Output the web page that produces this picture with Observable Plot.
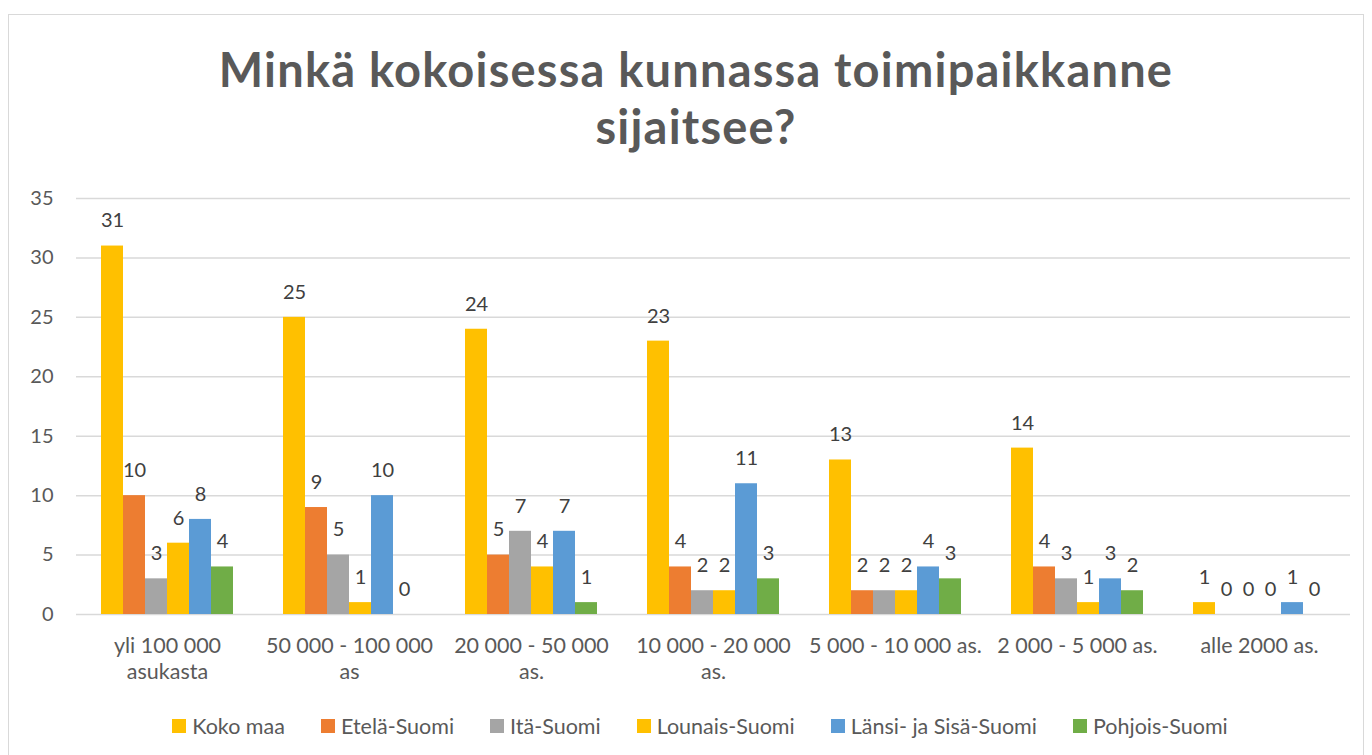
<!DOCTYPE html>
<html><head><meta charset="utf-8">
<script src="https://cdn.jsdelivr.net/npm/d3@7"></script>
<script src="https://cdn.jsdelivr.net/npm/@observablehq/plot@0.6"></script>
<style>
body{margin:0;background:#fff;font-family:Lato,"Open Sans",sans-serif;width:1372px;height:755px;overflow:hidden;position:relative}
#frame{position:absolute;left:8px;top:14px;width:1356px;height:780px;border:1.5px solid #d9d9d9;box-sizing:border-box}
#title{position:absolute;left:10px;width:1372px;top:41px;text-align:center;font-weight:bold;font-size:47px;letter-spacing:1.2px;color:#595959;line-height:57px}
#chart{position:absolute;left:0;top:170px}
#legend{position:absolute;top:712px;left:14px;width:1372px;display:flex;justify-content:center;gap:36px;font-size:21.5px;color:#595959;line-height:28px}
.item{display:flex;align-items:center;gap:6px}
.sw{width:14px;height:14px;display:inline-block}
</style></head>
<body>
<div id="frame"></div>
<div id="title">Minkä kokoisessa kunnassa toimipaikkanne<br>sijaitsee?</div>
<div id="chart"></div>
<div id="legend"></div>
<script>
const categories = ["yli 100 000 asukasta","50 000 - 100 000 as","20 000 - 50 000 as.","10 000 - 20 000 as.","5 000 - 10 000 as.","2 000 - 5 000 as.","alle 2000 as."];
const tickLabels = ["yli 100 000\nasukasta","50 000 - 100 000\nas","20 000 - 50 000\nas.","10 000 - 20 000\nas.","5 000 - 10 000 as.","2 000 - 5 000 as.","alle 2000 as."];
const series = ["Koko maa","Etelä-Suomi","Itä-Suomi","Lounais-Suomi","Länsi- ja Sisä-Suomi","Pohjois-Suomi"];
const colors = ["#FFC000","#ED7D31","#A5A5A5","#FFC000","#5B9BD5","#70AD47"];
const kokoMaa = [31,25,24,23,13,14,1];
const etelaSuomi = [10,9,5,4,2,4,0];
const itaSuomi = [3,5,7,2,2,3,0];
const lounaisSuomi = [6,1,4,2,2,1,0];
const lansiSisaSuomi = [8,10,7,11,4,3,1];
const pohjoisSuomi = [4,0,1,3,3,2,0];
const yTicks = [0,5,10,15,20,25,30,35];

const valuesBySeries = [kokoMaa, etelaSuomi, itaSuomi, lounaisSuomi, lansiSisaSuomi, pohjoisSuomi];
const data = [];
categories.forEach((c, i) => series.forEach((s, j) => data.push({cat: c, series: s, value: valuesBySeries[j][i]})));

const chart = Plot.plot({
  width: 1372, height: 540,
  marginLeft: 73, marginRight: 20, marginTop: 28, marginBottom: 96,
  style: {fontFamily: "Lato, 'Open Sans', sans-serif", fontSize: "20px", color: "#595959", background: "transparent"},
  fx: {domain: categories, padding: 0, label: null},
  x: {domain: series, axis: null, paddingInner: 0, paddingOuter: 1.09},
  y: {domain: [0, 35], label: null},
  color: {domain: series, range: colors},
  marks: [
    Plot.ruleY(yTicks, {stroke: "#d9d9d9", strokeWidth: 1.5}),
    Plot.axisY(yTicks, {tickSize: 0, tickPadding: 23, label: null, fontSize: 20}),
    Plot.axisFx({anchor: "bottom", tickSize: 0, tickPadding: 19, label: null, lineHeight: 1.25, fontSize: 21.5, tickFormat: d => tickLabels[categories.indexOf(d)]}),
    Plot.barY(data, {fx: "cat", x: "series", y: "value", fill: "series", inset: 0}),
    Plot.text(data, {fx: "cat", x: "series", y: "value", text: d => String(d.value), dy: -25, fill: "#404040", fontSize: 20})
  ]
});
document.getElementById("chart").appendChild(chart);

const legend = document.getElementById("legend");
series.forEach((s, j) => {
  const it = document.createElement("div");
  it.className = "item";
  it.innerHTML = `<span class="sw" style="background:${colors[j]}"></span><span>${s}</span>`;
  legend.appendChild(it);
});
</script>
</body></html>
